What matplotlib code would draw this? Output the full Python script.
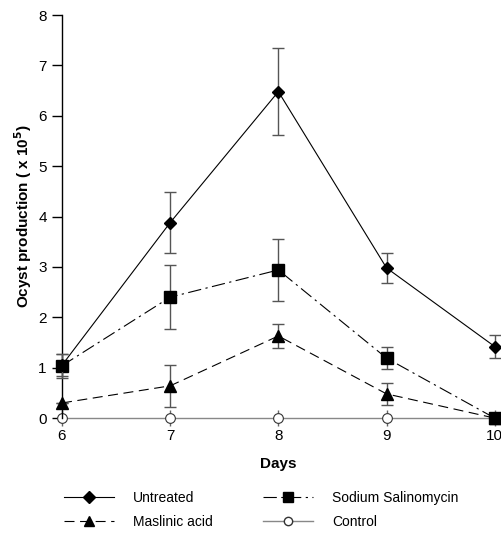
import matplotlib
matplotlib.use("Agg")
import matplotlib.pyplot as plt
from matplotlib.lines import Line2D

plt.rcParams['font.family'] = ['Liberation Sans', 'DejaVu Sans']

days = [6, 7, 8, 9, 10]
untreated = [1.05, 3.88, 6.48, 2.98, 1.42]
untreated_err = [0.22, 0.60, 0.87, 0.30, 0.23]
salino = [1.04, 2.40, 2.94, 1.19, 0.0]
salino_err = [0.24, 0.63, 0.62, 0.22, 0.0]
maslinic = [0.30, 0.64, 1.63, 0.48, 0.0]
maslinic_err = [0.0, 0.42, 0.23, 0.22, 0.0]
control = [0, 0, 0, 0, 0]

fig = plt.figure(figsize=(5.02, 5.36), dpi=100)
ax = fig.add_axes([0.1235, 0.22, 0.862, 0.752])

ecol = '#555555'
ax.plot(days, control, color='#888888', lw=1.0, marker='o', ms=7, mfc='white', mec='#333333', mew=0.8, clip_on=False, zorder=2)
ax.errorbar(days, maslinic, yerr=maslinic_err, color='black', lw=0.8, ls=(0, (9, 5)), marker='^', ms=8,
            ecolor=ecol, elinewidth=1.0, capsize=4, capthick=1.0, clip_on=False, zorder=3)
ax.errorbar(days, salino, yerr=salino_err, color='black', lw=0.8, ls=(0, (12, 4, 2, 4)), marker='s', ms=8,
            ecolor=ecol, elinewidth=1.0, capsize=4, capthick=1.0, clip_on=False, zorder=3)
ax.errorbar(days, untreated, yerr=untreated_err, color='black', lw=0.8, ls='-', marker='D', ms=6.5,
            ecolor=ecol, elinewidth=1.0, capsize=4, capthick=1.0, clip_on=False, zorder=4)

ax.set_xlim(6, 10)
ax.set_ylim(0, 8)
ax.set_xticks(days)
ax.set_yticks(range(0, 9))
for s in ['top', 'right', 'bottom']:
    ax.spines[s].set_visible(False)
ax.spines['left'].set_linewidth(1.0)
ax.tick_params(axis='y', direction='out', length=7, width=1.0, labelsize=11, pad=4)
ax.tick_params(axis='x', direction='inout', length=12, width=1.0, color='#666666', labelsize=11, pad=2)
ax.set_xlabel('Days', fontsize=11, fontweight='bold', labelpad=10)
ax.set_ylabel('Ocyst production ( x 10$^{\\mathbf{5}}$)', fontsize=11, fontweight='bold', labelpad=3)

handles = [
    Line2D([], [], color='black', lw=0.8, ls='-', marker='D', ms=6),
    Line2D([], [], color='black', lw=0.8, ls=(0, (9, 5)), marker='^', ms=7),
    Line2D([], [], color='black', lw=0.8, ls=(0, (12, 4, 2, 4)), marker='s', ms=7),
    Line2D([], [], color='#888888', lw=1.0, ls='-', marker='o', ms=6, mfc='white', mec='#333333'),
]
labels = ['Untreated', 'Maslinic acid', 'Sodium Salinomycin', 'Control']
fig.legend(handles, labels, loc='upper left', bbox_to_anchor=(0.117, 0.095), ncol=2, frameon=False,
           fontsize=10, handlelength=3.6, handletextpad=1.37, columnspacing=3.6, labelspacing=0.75,
           borderaxespad=0)

fig.savefig('out.png', dpi=100)
